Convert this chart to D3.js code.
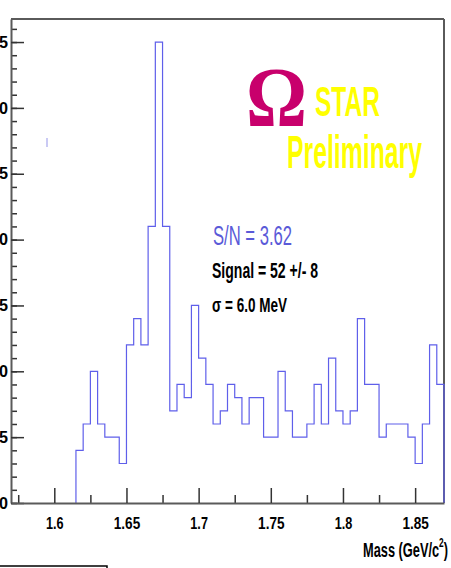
<!DOCTYPE html>
<html lang="en">
<head>
<meta charset="UTF-8">
<title>Omega invariant mass</title>
<script src="https://d3js.org/d3.v7.min.js"></script>
<style>
    body { margin: 0; background: #fff; }
    svg { display: block; }
    .tick text { font-family: "Liberation Sans", Arial, sans-serif; font-weight: bold; fill: #000; }
    .hist { fill: none; stroke: #5f5fea; stroke-width: 1.2px; }
    .frame { stroke: #5a5a5a; stroke-width: 2px; }
</style>
</head>
<body>
<svg width="451" height="568"></svg>
<script>
    // histogram: first bin edge, bin width and counts per bin
    var binStart = 1.615;
    var binWidth = 0.005;
    var counts = [4, 6, 10, 6, 5, 5, 3, 12, 14, 12, 21, 35, 21,
                  7, 9, 8, 15, 11, 9, 6, 7, 9, 8, 6,
                  8, 8, 5, 5, 10, 7, 5, 5, 6, 9, 6, 11, 7, 6, 7, 14,
                  9, 9, 5, 6, 6, 6, 5, 3, 6, 12, 9];

    var xMajor = [1.6, 1.65, 1.7, 1.75, 1.8, 1.85];
    var xMinor = [1.575, 1.625, 1.675, 1.725, 1.775, 1.825];
    var yMajor = [0, 5, 10, 15, 20, 25, 30, 35];
    var yMinor = d3.range(0, 37);

    var svg = d3.select("svg");

    var x = d3.scaleLinear().domain([1.57, 1.87]).range([11, 444]);
    var y = d3.scaleLinear().domain([0, 36.75]).range([503, 19]);

    // frame top and right
    svg.append("line").attr("class", "frame")
        .attr("x1", 11).attr("x2", 444).attr("y1", y(36.75)).attr("y2", y(36.75));
    svg.append("line").attr("class", "frame")
        .attr("x1", 444).attr("x2", 444).attr("y1", y(36.75)).attr("y2", y(0));

    // histogram outline
    var pts = [[x(binStart), y(0)]];
    counts.forEach(function (c, i) {
        var lo = binStart + i * binWidth;
        pts.push([x(lo), y(c)]);
        pts.push([x(lo + binWidth), y(c)]);
    });
    pts.push([x(binStart + counts.length * binWidth), y(0)]);
    svg.append("path").attr("class", "hist").attr("d", d3.line()(pts));

    // minor ticks
    svg.append("g").attr("transform", "translate(11,0)")
        .call(d3.axisLeft(y).tickValues(yMinor).tickSize(-6).tickSizeOuter(0).tickFormat(""))
        .call(g => g.select(".domain").remove())
        .selectAll("line").attr("stroke", "#333").attr("stroke-width", 1.5);
    svg.append("g").attr("transform", "translate(0,503)")
        .call(d3.axisBottom(x).tickValues(xMinor).tickSize(-8).tickSizeOuter(0).tickFormat(""))
        .call(g => g.select(".domain").remove())
        .selectAll("line").attr("stroke", "#333").attr("stroke-width", 1.5);

    // major y axis
    var yAx = svg.append("g").attr("transform", "translate(11,0)")
        .call(d3.axisLeft(y).tickValues(yMajor).tickSize(-13).tickSizeOuter(0).tickPadding(3));
    yAx.select(".domain").attr("stroke", "#5a5a5a").attr("stroke-width", 2);
    yAx.selectAll("line").attr("stroke", "#333").attr("stroke-width", 1.5);
    yAx.selectAll("text").style("font-size", "16px")
        .attr("textLength", d => String(d).length * 9).attr("lengthAdjust", "spacingAndGlyphs");

    // major x axis
    var xAx = svg.append("g").attr("transform", "translate(0,503)")
        .call(d3.axisBottom(x).tickValues(xMajor).tickSize(-15).tickSizeOuter(0).tickPadding(14)
            .tickFormat(d3.format("")));
    xAx.select(".domain").attr("stroke", "#5a5a5a").attr("stroke-width", 2);
    xAx.selectAll("line").attr("stroke", "#333").attr("stroke-width", 1.5);
    xAx.selectAll("text").style("font-size", "17px")
        .attr("textLength", d => (String(d).length - 1) * 8.8).attr("lengthAdjust", "spacingAndGlyphs");

    // axis title
    var xt = svg.append("g").attr("transform", "translate(363,557) scale(0.64,1)")
        .append("text")
        .style("font-family", "'Liberation Sans', Arial, sans-serif")
        .style("font-weight", "bold").style("font-size", "20px");
    xt.append("tspan").text("Mass (GeV/c");
    xt.append("tspan").attr("dy", -10).style("font-size", "13px").text("2");
    xt.append("tspan").attr("dy", 10).text(")");

    // labels
    function label(txt, px, py, size, len, color, weight, family) {
        svg.append("text")
            .attr("x", px).attr("y", py)
            .attr("textLength", len).attr("lengthAdjust", "spacingAndGlyphs")
            .style("font-family", family || "'Liberation Sans', Arial, sans-serif")
            .style("font-weight", weight)
            .style("font-size", size + "px")
            .style("fill", color)
            .text(txt);
    }
    label("\u03A9", 246, 126, 84, 61, "#c8006c", "bold", "'Liberation Serif', 'Times New Roman', serif");
    label("STAR", 315, 116, 42, 65, "#ffff00", "bold");
    label("Preliminary", 287, 168, 46, 135, "#ffff00", "bold");
    label("S/N = 3.62", 213, 245, 28, 79, "#5a5ad8", "normal");
    label("Signal = 52 +/- 8", 212, 278, 22, 106, "#000", "bold");
    label("\u03C3 = 6.0 MeV", 212, 312, 21, 75, "#000", "bold");

    // small marks left on the original page
    svg.append("line").attr("x1", 47).attr("x2", 47).attr("y1", 138).attr("y2", 147)
        .attr("stroke", "#b8b8f0").attr("stroke-width", 1.5);
    svg.append("path").attr("d", "M0,566H107V568").attr("fill", "none")
        .attr("stroke", "#000").attr("stroke-width", 1.5);
</script>
</body>
</html>
